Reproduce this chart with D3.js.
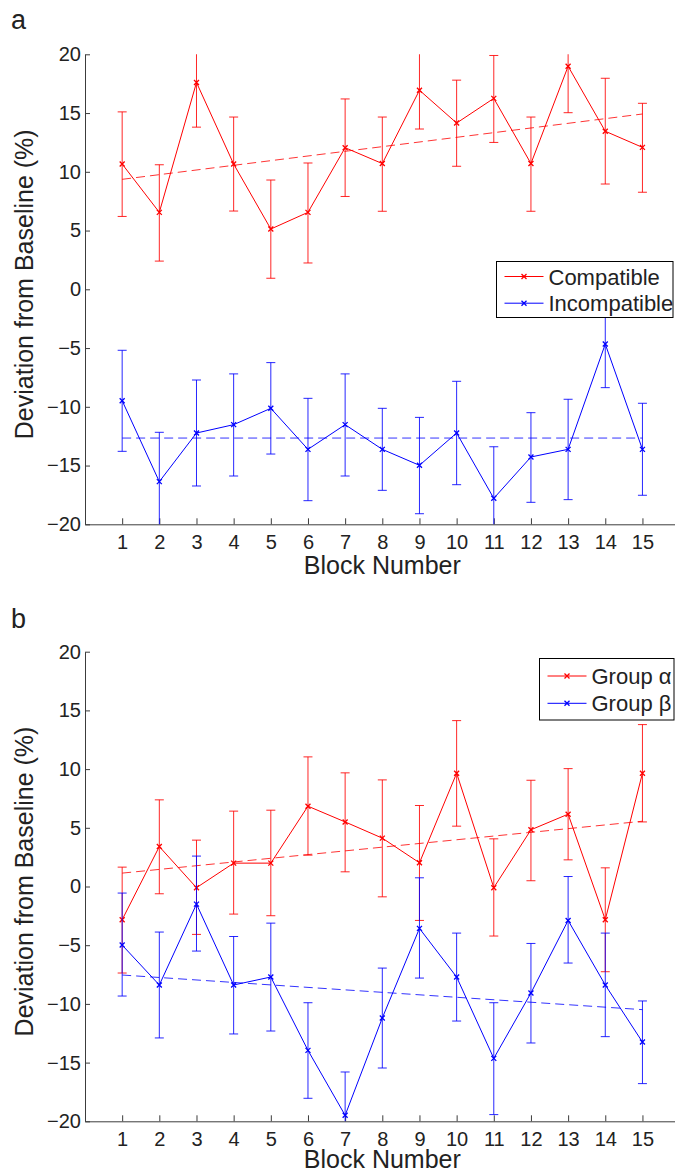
<!DOCTYPE html>
<html>
<head>
<meta charset="utf-8">
<script src="https://cdn.jsdelivr.net/npm/d3@7"></script>
<style>
    body { margin: 0; background: #fff; }
    svg { display: block; font-family: "Liberation Sans", Arial, Helvetica, sans-serif; }
</style>
</head>
<body>
<div id="chart"></div>
<script>
// Block numbers and tick values
const blocks = [1, 2, 3, 4, 5, 6, 7, 8, 9, 10, 11, 12, 13, 14, 15];
const yTicks = [-20, -15, -10, -5, 0, 5, 10, 15, 20];
const trendBlocks = [1, 15];

// Panel a: Compatible / Incompatible (mean, upper and lower end of error bar)
const compatMean = [10.66, 6.55, 17.6, 10.66, 5.13, 6.55, 12.05, 10.7, 16.94, 14.15, 16.25, 10.7, 18.98, 13.45, 12.08];
const compatHi = [15.1, 10.6, 21.4, 14.66, 9.3, 10.75, 16.2, 14.66, 20.24, 17.8, 19.9, 14.66, 22.9, 17.96, 15.83];
const compatLo = [6.2, 2.4, 13.8, 6.66, 0.94, 2.24, 7.9, 6.64, 13.64, 10.47, 12.5, 6.64, 15.03, 8.96, 8.26];
const compatTrend = [9.36, 14.92];

const incompMean = [-9.48, -16.37, -12.23, -11.52, -10.13, -13.62, -11.52, -13.62, -14.98, -12.23, -17.79, -14.27, -13.62, -4.66, -13.62];
const incompHi = [-5.19, -12.17, -7.72, -7.2, -6.24, -9.28, -7.2, -10.13, -10.9, -7.83, -13.4, -10.5, -9.36, -0.96, -9.7];
const incompLo = [-13.79, -20.57, -16.74, -15.89, -14.02, -17.99, -15.89, -17.11, -19.1, -16.63, -22.2, -18.13, -17.9, -8.37, -17.53];
const incompTrend = [-12.66, -12.66];

// Panel b: Group alpha / Group beta
const groupAMean = [-2.83, 3.4, -0.1, 1.99, 1.99, 6.84, 5.5, 4.12, 2.02, 9.65, -0.1, 4.83, 6.16, -2.83, 9.65];
const groupAHi = [1.65, 7.38, 3.95, 6.42, 6.5, 11.04, 9.68, 9.08, 6.9, 14.13, 4.06, 9.05, 10.04, 1.59, 13.79];
const groupALo = [-7.37, -0.62, -4.08, -2.35, -2.49, 2.67, 1.25, -0.88, -2.89, 5.14, -4.22, 0.49, 2.27, -7.26, 5.5];
const groupATrend = [1.14, 5.56];

const groupBMean = [-4.99, -8.39, -1.5, -8.39, -7.71, -13.96, -19.49, -11.2, -3.57, -7.71, -14.64, -9.07, -2.89, -8.39, -13.25];
const groupBHi = [-0.56, -3.88, 2.59, -4.26, -3.12, -9.9, -15.8, -6.95, 0.74, -3.97, -9.9, -4.85, 0.85, -3.97, -9.75];
const groupBLo = [-9.33, -12.9, -5.5, -12.56, -12.31, -18.04, -23.2, -15.46, -7.8, -11.46, -19.43, -13.33, -6.52, -12.79, -16.79];
const groupBTrend = [-7.54, -10.49];

const RED = "#ff0000";
const BLUE = "#0000ff";
const AXIS = "#3c3c3c";
const TEXT = "#222";

const svg = d3.select("#chart")
    .append("svg")
    .attr("width", 675)
    .attr("height", 1173);

// Draw one panel
function drawPanel(id, top, bottom, letter, letterY, titleGap, series, legendBox) {
    const g = svg.append("g");

    const xScale = d3.scaleLinear().domain([0, 16]).range([85, 679.6]);
    const yScale = d3.scaleLinear().domain([-20, 20]).range([bottom, top]);

    // clip for the data
    svg.append("clipPath").attr("id", "clip" + id)
        .append("rect")
        .attr("x", 85).attr("y", top)
        .attr("width", 600).attr("height", bottom - top);

    // axes (ticks point inward, like MATLAB)
    const yAxis = d3.axisLeft(yScale).tickValues(yTicks).tickSizeInner(-5).tickSizeOuter(0).tickPadding(4);
    const gy = g.append("g").attr("transform", "translate(85,0)").call(yAxis);
    const xAxis = d3.axisBottom(xScale).tickValues(blocks).tickSizeInner(-6).tickSizeOuter(0).tickPadding(11);
    const gx = g.append("g").attr("transform", `translate(0,${bottom})`).call(xAxis);
    [gx, gy].forEach(a => {
        a.select(".domain").attr("stroke", AXIS);
        a.selectAll(".tick line").attr("stroke", AXIS);
        a.selectAll(".tick text").attr("fill", TEXT).style("font-size", "20px");
    });

    const plot = g.append("g").attr("clip-path", `url(#clip${id})`);

    series.forEach(s => {
        const pts = blocks.map((b, i) => ({ b: b, m: s.mean[i], hi: s.hi[i], lo: s.lo[i] }));

        // error bars
        const eb = plot.append("g").attr("stroke", s.color).attr("stroke-width", 1).attr("stroke-opacity", 0.85);
        eb.selectAll(".v").data(pts).enter().append("line")
            .attr("x1", d => xScale(d.b)).attr("x2", d => xScale(d.b))
            .attr("y1", d => yScale(d.hi)).attr("y2", d => yScale(d.lo));
        eb.selectAll(".ct").data(pts).enter().append("line")
            .attr("x1", d => xScale(d.b) - 4.5).attr("x2", d => xScale(d.b) + 4.5)
            .attr("y1", d => yScale(d.hi)).attr("y2", d => yScale(d.hi));
        eb.selectAll(".cb").data(pts).enter().append("line")
            .attr("x1", d => xScale(d.b) - 4.5).attr("x2", d => xScale(d.b) + 4.5)
            .attr("y1", d => yScale(d.lo)).attr("y2", d => yScale(d.lo));

        // mean line
        const line = d3.line().x(d => xScale(d.b)).y(d => yScale(d.m));
        plot.append("path").datum(pts)
            .attr("d", line).attr("fill", "none")
            .attr("stroke", s.color).attr("stroke-width", 1);

        // x markers
        plot.selectAll(null).data(pts).enter().append("path")
            .attr("transform", d => `translate(${xScale(d.b)},${yScale(d.m)})`)
            .attr("d", "M-2.5,-2.5L2.5,2.5M-2.5,2.5L2.5,-2.5")
            .attr("stroke", s.color).attr("stroke-width", 1.3);

        // dashed trend line
        const tr = trendBlocks.map((b, i) => ({ b: b, v: s.trend[i] }));
        plot.append("path").datum(tr)
            .attr("d", d3.line().x(d => xScale(d.b)).y(d => yScale(d.v)))
            .attr("fill", "none").attr("stroke", s.color).attr("stroke-opacity", 0.8)
            .attr("stroke-width", 1).attr("stroke-dasharray", "9,5");
    });

    // labels
    g.append("text")
        .attr("x", 11).attr("y", letterY)
        .attr("fill", TEXT).style("font-size", "27px")
        .text(letter);

    g.append("text")
        .attr("text-anchor", "middle")
        .attr("x", xScale(8)).attr("y", bottom + titleGap)
        .attr("fill", TEXT).style("font-size", "25px")
        .text("Block Number");

    g.append("text")
        .attr("text-anchor", "middle")
        .attr("transform", `translate(33,${(top + bottom) / 2 - 5}) rotate(-90)`)
        .attr("fill", TEXT).style("font-size", "25px")
        .text("Deviation from Baseline (%)");

    // legend
    const lg = g.append("g");
    lg.append("rect")
        .attr("x", legendBox.x).attr("y", legendBox.y)
        .attr("width", legendBox.w).attr("height", legendBox.h)
        .attr("fill", "#fff").attr("stroke", "#000").attr("stroke-width", 1);
    series.forEach((s, i) => {
        const cy = legendBox.y + legendBox.row0 + i * legendBox.step;
        const lx = legendBox.x + 8;
        lg.append("line")
            .attr("x1", lx).attr("x2", lx + 39).attr("y1", cy).attr("y2", cy)
            .attr("stroke", s.color).attr("stroke-width", 1);
        lg.append("path")
            .attr("transform", `translate(${lx + 19.5},${cy})`)
            .attr("d", "M-2.5,-2.5L2.5,2.5M-2.5,2.5L2.5,-2.5")
            .attr("stroke", s.color).attr("stroke-width", 1.3);
        lg.append("text")
            .attr("x", lx + 44).attr("y", cy + 8)
            .attr("fill", TEXT).style("font-size", "22px")
            .text(s.name);
    });
}

drawPanel("a", 54.3, 524.3, "a", 29, 50, [
    { name: "Compatible", color: RED, mean: compatMean, hi: compatHi, lo: compatLo, trend: compatTrend },
    { name: "Incompatible", color: BLUE, mean: incompMean, hi: incompHi, lo: incompLo, trend: incompTrend }
], { x: 496.5, y: 261.5, w: 176.5, h: 56, row0: 15, step: 26.7 });

drawPanel("b", 651.7, 1121.3, "b", 628, 46.5, [
    { name: "Group α", color: RED, mean: groupAMean, hi: groupAHi, lo: groupALo, trend: groupATrend },
    { name: "Group β", color: BLUE, mean: groupBMean, hi: groupBHi, lo: groupBLo, trend: groupBTrend }
], { x: 539.5, y: 658.5, w: 134.5, h: 61.5, row0: 17.5, step: 27.3 });
</script>
</body>
</html>
